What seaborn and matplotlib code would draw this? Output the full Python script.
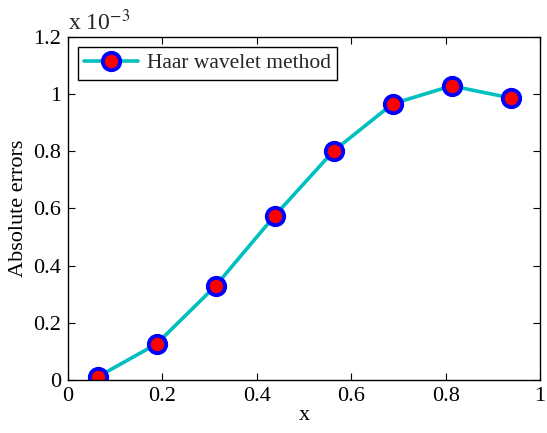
import numpy as np
import pandas as pd
import seaborn as sns
import matplotlib
matplotlib.use("Agg")
import matplotlib.pyplot as plt
from matplotlib.ticker import FuncFormatter, MultipleLocator

x_vals = [0.0625, 0.1875, 0.3125, 0.4375, 0.5625, 0.6875, 0.8125, 0.9375]
abs_errors = [0.0105e-3, 0.126e-3, 0.329e-3, 0.574e-3, 0.801e-3, 0.966e-3, 1.029e-3, 0.987e-3]
series_name = "Haar wavelet method"

df = pd.DataFrame({"x": x_vals, "err": abs_errors})

sns.set_theme(style="white")
plt.rcParams['font.family'] = ['Liberation Serif', 'DejaVu Serif']
plt.rcParams['mathtext.fontset'] = 'stix'

fs = 16
fig = plt.figure(figsize=(5.47, 4.33), dpi=100)
ax = fig.add_axes([68/547, 1 - 380/433, (540-68)/547, (380-37)/433])

sns.lineplot(data=df, x="x", y="err", ax=ax, color="#00BFBF", linewidth=2.6,
             marker="o", markersize=12.5, markerfacecolor="red",
             markeredgecolor="blue", markeredgewidth=2.8, label=series_name)

ax.set_xlim(0, 1)
ax.set_ylim(0, 1.2e-3)
ax.xaxis.set_major_locator(MultipleLocator(0.2))
ax.yaxis.set_major_locator(MultipleLocator(0.2e-3))
ax.xaxis.set_major_formatter(FuncFormatter(lambda v, p: f"{v:g}"))
ax.yaxis.set_major_formatter(FuncFormatter(lambda v, p: f"{round(v/1e-3, 6):g}"))
ax.tick_params(direction="in", length=5, width=0.8, labelsize=fs, colors="black",
               top=True, right=True, bottom=True, left=True, pad=5)
for s in ax.spines.values():
    s.set_visible(True)
    s.set_color("black")
    s.set_linewidth(1.0)

ax.set_xlabel("x", fontsize=fs, color="black", labelpad=0)
ax.set_ylabel("Absolute errors", fontsize=fs, color="black", labelpad=4)
ax.text(0.0, 1.005, r"x 10$^{-3}$", transform=ax.transAxes, fontsize=17,
        ha="left", va="bottom")

leg = ax.legend(loc="upper left", fontsize=15.5, frameon=True, fancybox=False,
                edgecolor="black", borderaxespad=0.45, handlelength=2.5,
                borderpad=0.3, handletextpad=0.4)
leg.get_frame().set_linewidth(1.0)
leg.get_frame().set_alpha(1)

fig.savefig("out.png", dpi=100)
